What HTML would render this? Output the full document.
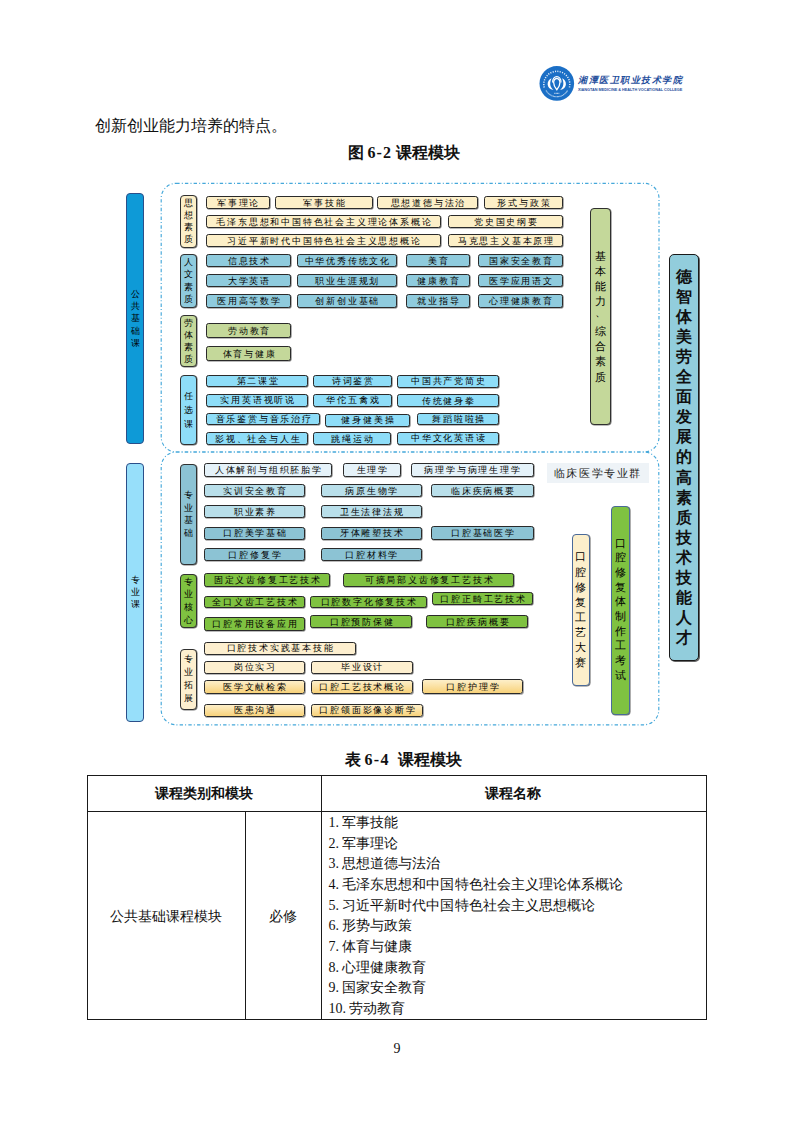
<!DOCTYPE html>
<html><head><meta charset="utf-8"><style>
html,body{margin:0;padding:0;background:#fff;}
body{width:793px;height:1122px;position:relative;overflow:hidden;font-family:"Liberation Serif",serif;color:#111;}
.a{position:absolute;box-sizing:border-box;}
.bx{position:absolute;box-sizing:border-box;border:1.4px solid #2a2a2a;border-radius:2.6px;box-shadow:0.6px 0.6px 0 #777;font-size:8.6px;letter-spacing:1.8px;text-indent:1.8px;line-height:1;font-weight:500;display:flex;align-items:center;justify-content:center;white-space:nowrap;color:#000;padding-top:1px;}
.vb{position:absolute;box-sizing:border-box;border:1.3px solid #303030;border-radius:4px;box-shadow:0.6px 0.6px 0 #777;display:flex;flex-direction:column;align-items:center;justify-content:center;line-height:1;color:#000;font-weight:500;}
.y{background:#FCEFC8;}
.b{background:#8FCBDD;}
.o{background:#C4D89A;}
.bb{background:#8EDDF8;}
.vl{background:#E5F2F9;}
.lb{background:#B9DFEA;}
.tb{background:#8CC3D4;}
.g{background:#7FC241;}
.c{background:#FDEFCF;}
.gy{background:linear-gradient(#FDEFC9,#F8D27A);}
.cb{background:#FCEFCB;border-color:#4A6A9A;}
.gb{background:#7FC241;border-color:#4A6A9A;}
</style></head><body>

<div class="bx y" style="left:205.7px;top:195.6px;width:64.1px;height:13.8px;">军事理论</div>
<div class="bx y" style="left:274.7px;top:195.6px;width:98.6px;height:13.8px;">军事技能</div>
<div class="bx y" style="left:376.7px;top:195.6px;width:101.6px;height:13.8px;">思想道德与法治</div>
<div class="bx y" style="left:483.7px;top:195.6px;width:79.6px;height:13.8px;">形式与政策</div>
<div class="bx y" style="left:205.7px;top:214.6px;width:235.6px;height:13.8px;">毛泽东思想和中国特色社会主义理论体系概论</div>
<div class="bx y" style="left:447.7px;top:214.6px;width:115.6px;height:13.8px;">党史国史纲要</div>
<div class="bx y" style="left:205.7px;top:233.6px;width:235.6px;height:13.8px;">习近平新时代中国特色社会主义思想概论</div>
<div class="bx y" style="left:447.7px;top:233.6px;width:115.6px;height:13.8px;">马克思主义基本原理</div>
<div class="bx b" style="left:205.7px;top:253.6px;width:85.6px;height:13.8px;">信息技术</div>
<div class="bx b" style="left:296.7px;top:253.6px;width:100.6px;height:13.8px;">中华优秀传统文化</div>
<div class="bx b" style="left:405.7px;top:253.6px;width:64.6px;height:13.8px;">美育</div>
<div class="bx b" style="left:477.7px;top:253.6px;width:85.6px;height:13.8px;">国家安全教育</div>
<div class="bx b" style="left:205.7px;top:273.6px;width:85.6px;height:13.8px;">大学英语</div>
<div class="bx b" style="left:296.7px;top:273.6px;width:100.6px;height:13.8px;">职业生涯规划</div>
<div class="bx b" style="left:405.7px;top:273.6px;width:64.6px;height:13.8px;">健康教育</div>
<div class="bx b" style="left:477.7px;top:273.6px;width:85.6px;height:13.8px;">医学应用语文</div>
<div class="bx b" style="left:205.7px;top:293.9px;width:85.6px;height:14.4px;">医用高等数学</div>
<div class="bx b" style="left:296.7px;top:293.9px;width:100.6px;height:14.4px;">创新创业基础</div>
<div class="bx b" style="left:405.7px;top:293.9px;width:64.6px;height:14.4px;">就业指导</div>
<div class="bx b" style="left:477.7px;top:293.9px;width:85.6px;height:14.4px;">心理健康教育</div>
<div class="bx o" style="left:206.2px;top:322.6px;width:85.1px;height:15.8px;">劳动教育</div>
<div class="bx o" style="left:206.2px;top:345.6px;width:85.1px;height:15.8px;">体育与健康</div>
<div class="bx bb" style="left:206.2px;top:374.6px;width:102.1px;height:12.8px;">第二课堂</div>
<div class="bx bb" style="left:312.7px;top:374.6px;width:79.6px;height:12.8px;">诗词鉴赏</div>
<div class="bx bb" style="left:396.7px;top:374.6px;width:102.6px;height:13.3px;">中国共产党简史</div>
<div class="bx bb" style="left:206.2px;top:393.6px;width:102.1px;height:13.3px;">实用英语视听说</div>
<div class="bx bb" style="left:312.7px;top:393.6px;width:79.6px;height:13.3px;">华佗五禽戏</div>
<div class="bx bb" style="left:396.7px;top:393.6px;width:102.6px;height:13.8px;">传统健身拳</div>
<div class="bx bb" style="left:206.2px;top:412.6px;width:114.1px;height:12.3px;">音乐鉴赏与音乐治疗</div>
<div class="bx bb" style="left:324.7px;top:413.6px;width:85.6px;height:13.3px;">健身健美操</div>
<div class="bx bb" style="left:417.2px;top:413.1px;width:82.1px;height:12.3px;">舞蹈啦啦操</div>
<div class="bx bb" style="left:206.2px;top:432.1px;width:102.1px;height:13.3px;">影视、社会与人生</div>
<div class="bx bb" style="left:312.7px;top:432.1px;width:78.6px;height:13.3px;">跳绳运动</div>
<div class="bx bb" style="left:396.7px;top:431.6px;width:102.6px;height:13.3px;">中华文化英语读</div>
<div class="bx vl" style="left:203.7px;top:463.1px;width:128.6px;height:13.5px;">人体解剖与组织胚胎学</div>
<div class="bx vl" style="left:343.1px;top:463.1px;width:57.7px;height:13.5px;">生理学</div>
<div class="bx vl" style="left:410.7px;top:462.9px;width:122.9px;height:13.7px;">病理学与病理生理学</div>
<div class="bx lb" style="left:203.7px;top:484.0px;width:101.6px;height:13.4px;">实训安全教育</div>
<div class="bx lb" style="left:320.7px;top:484.0px;width:101.2px;height:13.4px;">病原生物学</div>
<div class="bx lb" style="left:431.4px;top:483.9px;width:102.2px;height:13.0px;">临床疾病概要</div>
<div class="bx lb" style="left:203.7px;top:505.1px;width:101.6px;height:12.9px;">职业素养</div>
<div class="bx lb" style="left:320.7px;top:505.1px;width:101.2px;height:12.9px;">卫生法律法规</div>
<div class="bx tb" style="left:203.7px;top:526.6px;width:101.6px;height:13.1px;">口腔美学基础</div>
<div class="bx tb" style="left:320.7px;top:526.6px;width:101.2px;height:13.1px;">牙体雕塑技术</div>
<div class="bx tb" style="left:431.4px;top:526.3px;width:102.2px;height:13.7px;">口腔基础医学</div>
<div class="bx tb" style="left:203.7px;top:548.1px;width:101.6px;height:13.3px;">口腔修复学</div>
<div class="bx tb" style="left:320.7px;top:548.1px;width:101.2px;height:13.3px;">口腔材料学</div>
<div class="bx g" style="left:203.7px;top:573.3px;width:126.6px;height:13.3px;">固定义齿修复工艺技术</div>
<div class="bx g" style="left:343.1px;top:573.3px;width:171.2px;height:13.3px;">可摘局部义齿修复工艺技术</div>
<div class="bx g" style="left:203.7px;top:595.6px;width:101.6px;height:12.8px;">全口义齿工艺技术</div>
<div class="bx g" style="left:310.2px;top:595.6px;width:116.4px;height:12.8px;">口腔数字化修复技术</div>
<div class="bx g" style="left:432.0px;top:591.8px;width:101.3px;height:13.6px;">口腔正畸工艺技术</div>
<div class="bx g" style="left:203.7px;top:617.1px;width:101.6px;height:13.7px;">口腔常用设备应用</div>
<div class="bx g" style="left:310.2px;top:615.1px;width:102.3px;height:12.9px;">口腔预防保健</div>
<div class="bx g" style="left:426.0px;top:614.6px;width:102.3px;height:13.6px;">口腔疾病概要</div>
<div class="bx c" style="left:203.7px;top:641.6px;width:152.1px;height:13.4px;">口腔技术实践基本技能</div>
<div class="bx c" style="left:203.7px;top:660.6px;width:101.6px;height:13.2px;">岗位实习</div>
<div class="bx c" style="left:311.0px;top:660.6px;width:101.5px;height:13.2px;">毕业设计</div>
<div class="bx gy" style="left:203.7px;top:680.0px;width:101.6px;height:14.4px;">医学文献检索</div>
<div class="bx gy" style="left:311.0px;top:680.0px;width:101.5px;height:14.4px;">口腔工艺技术概论</div>
<div class="bx gy" style="left:421.7px;top:678.8px;width:101.6px;height:15.4px;">口腔护理学</div>
<div class="bx gy" style="left:203.7px;top:703.6px;width:101.6px;height:13.2px;">医患沟通</div>
<div class="bx gy" style="left:311.0px;top:703.6px;width:112.3px;height:13.2px;">口腔颌面影像诊断学</div>
<div class="vb y" style="left:179.5px;top:194.5px;width:17.0px;height:53.5px;font-size:9.2px"><span style="display:block;height:12.1px;line-height:12.1px">思</span><span style="display:block;height:12.1px;line-height:12.1px">想</span><span style="display:block;height:12.1px;line-height:12.1px">素</span><span style="display:block;height:12.1px;line-height:12.1px">质</span></div>
<div class="vb b" style="left:179.5px;top:254px;width:17.0px;height:53.6px;font-size:9.2px"><span style="display:block;height:12.4px;line-height:12.4px">人</span><span style="display:block;height:12.4px;line-height:12.4px">文</span><span style="display:block;height:12.4px;line-height:12.4px">素</span><span style="display:block;height:12.4px;line-height:12.4px">质</span></div>
<div class="vb o" style="left:179.5px;top:314.7px;width:17.0px;height:52.8px;font-size:9.2px"><span style="display:block;height:12.1px;line-height:12.1px">劳</span><span style="display:block;height:12.1px;line-height:12.1px">体</span><span style="display:block;height:12.1px;line-height:12.1px">素</span><span style="display:block;height:12.1px;line-height:12.1px">质</span></div>
<div class="vb bb" style="left:179.5px;top:375.3px;width:17.0px;height:69.3px;font-size:9.2px"><span style="display:block;height:14.2px;line-height:14.2px">任</span><span style="display:block;height:14.2px;line-height:14.2px">选</span><span style="display:block;height:14.2px;line-height:14.2px">课</span></div>
<div class="vb tb" style="left:179.5px;top:463.7px;width:17.0px;height:101.6px;font-size:9.2px"><span style="display:block;height:12.7px;line-height:12.7px">专</span><span style="display:block;height:12.7px;line-height:12.7px">业</span><span style="display:block;height:12.7px;line-height:12.7px">基</span><span style="display:block;height:12.7px;line-height:12.7px">础</span></div>
<div class="vb g" style="left:179.5px;top:573.7px;width:17.0px;height:54.7px;font-size:9.2px"><span style="display:block;height:12.7px;line-height:12.7px">专</span><span style="display:block;height:12.7px;line-height:12.7px">业</span><span style="display:block;height:12.7px;line-height:12.7px">核</span><span style="display:block;height:12.7px;line-height:12.7px">心</span></div>
<div class="vb c" style="left:179.5px;top:649px;width:17.0px;height:60.7px;font-size:9.2px"><span style="display:block;height:13.1px;line-height:13.1px">专</span><span style="display:block;height:13.1px;line-height:13.1px">业</span><span style="display:block;height:13.1px;line-height:13.1px">拓</span><span style="display:block;height:13.1px;line-height:13.1px">展</span></div>
<div class="vb o" style="left:589.5px;top:208.4px;width:21.5px;height:216.6px;font-size:10.8px"><span style="display:block;height:15.1px;line-height:15.1px">基</span><span style="display:block;height:15.1px;line-height:15.1px">本</span><span style="display:block;height:15.1px;line-height:15.1px">能</span><span style="display:block;height:15.1px;line-height:15.1px">力</span><span style="display:block;height:15.1px;line-height:15.1px;position:relative;top:-4px;left:0.5px">、</span><span style="display:block;height:15.1px;line-height:15.1px">综</span><span style="display:block;height:15.1px;line-height:15.1px">合</span><span style="display:block;height:15.1px;line-height:15.1px">素</span><span style="display:block;height:15.1px;line-height:15.1px">质</span></div>
<div class="vb cb" style="left:571.8px;top:533.7px;width:17.8px;height:152.3px;font-size:10.5px"><span style="display:block;height:15.1px;line-height:15.1px">口</span><span style="display:block;height:15.1px;line-height:15.1px">腔</span><span style="display:block;height:15.1px;line-height:15.1px">修</span><span style="display:block;height:15.1px;line-height:15.1px">复</span><span style="display:block;height:15.1px;line-height:15.1px">工</span><span style="display:block;height:15.1px;line-height:15.1px">艺</span><span style="display:block;height:15.1px;line-height:15.1px">大</span><span style="display:block;height:15.1px;line-height:15.1px">赛</span></div>
<div class="vb gb" style="left:611.2px;top:505.5px;width:18.8px;height:209.2px;font-size:10.5px"><span style="display:block;height:14.7px;line-height:14.7px">口</span><span style="display:block;height:14.7px;line-height:14.7px">腔</span><span style="display:block;height:14.7px;line-height:14.7px">修</span><span style="display:block;height:14.7px;line-height:14.7px">复</span><span style="display:block;height:14.7px;line-height:14.7px">体</span><span style="display:block;height:14.7px;line-height:14.7px">制</span><span style="display:block;height:14.7px;line-height:14.7px">作</span><span style="display:block;height:14.7px;line-height:14.7px">工</span><span style="display:block;height:14.7px;line-height:14.7px">考</span><span style="display:block;height:14.7px;line-height:14.7px">试</span></div>
<svg class="a" style="left:0;top:0" width="793" height="1122" viewBox="0 0 793 1122">
<rect x="161.2" y="183.3" width="497.8" height="268.7" rx="15" ry="15" fill="none" stroke="#45A8DA" stroke-width="1.15" stroke-dasharray="3.4 2.2 1 2.1"/>
<rect x="161.2" y="452" width="497.59999999999997" height="272.79999999999995" rx="15" ry="15" fill="none" stroke="#45A8DA" stroke-width="1.15" stroke-dasharray="3.4 2.2 1 2.1"/>
</svg>
<div class="a" style="left:126px;top:193.2px;width:18.4px;height:250.8px;background:#0E9AD7;border:1px solid #2B4F8A;border-radius:4px;display:flex;flex-direction:column;align-items:center;justify-content:center;font-size:9.2px;line-height:12.4px;color:#000">
<span>公</span><span>共</span><span>基</span><span>础</span><span>课</span></div>
<div class="a" style="left:126px;top:462.6px;width:18.4px;height:259.4px;background:#97DFFA;border:1px solid #2B4F8A;border-radius:4px;display:flex;flex-direction:column;align-items:center;justify-content:center;font-size:9.2px;line-height:12.3px;color:#000">
<span>专</span><span>业</span><span>课</span></div>
<div class="a" style="left:669px;top:254px;width:30px;height:407px;background:#92CDDC;border:1.3px solid #1a1a1a;border-radius:5px;box-shadow:1px 1px 0 #666;display:flex;flex-direction:column;align-items:center;justify-content:center;font-size:16px;line-height:20.1px;font-weight:bold;color:#111">
<span>德</span><span>智</span><span>体</span><span>美</span><span>劳</span><span>全</span><span>面</span><span>发</span><span>展</span><span>的</span><span>高</span><span>素</span><span>质</span><span>技</span><span>术</span><span>技</span><span>能</span><span>人</span><span>才</span></div>
<div class="a" style="left:546.7px;top:462.9px;width:102.5px;height:20.6px;background:#EEF3F7;font-size:11px;letter-spacing:1.6px;display:flex;align-items:center;justify-content:center;color:#222">临床医学专业群</div>

<!-- header logo -->
<svg class="a" style="left:538px;top:65px" width="38" height="38" viewBox="0 0 38 38">
<circle cx="18.8" cy="18.4" r="17.3" fill="#1B6FC6"/>
<path d="M6.2 22.5 A13 13 0 1 1 31.4 22.5" fill="none" stroke="#e4eefa" stroke-width="1.5" stroke-dasharray="1.1 1.3"/>
<path d="M8 25.5 A12.5 12.5 0 0 0 29.6 25.5" fill="none" stroke="#c8ddf2" stroke-width="1.1" stroke-dasharray="0.9 0.4"/>
<path d="M13.6 13.2 C8.3 15.5 7.8 23.5 15.5 25 C11.8 22 11.3 17.5 13.6 13.2 Z" fill="#fff"/>
<path d="M24 13.2 C29.3 15.5 29.8 23.5 22.1 25 C25.8 22 26.3 17.5 24 13.2 Z" fill="#fff"/>
<path d="M18.8 24.8 C14.6 20 14.6 14.2 18.8 13.4 C23 14.2 23 20 18.8 24.8Z" fill="none" stroke="#fff" stroke-width="1.3"/>
<path d="M14.6 17.5 C14.2 9.6 23.4 9.6 23 17.5" fill="none" stroke="#fff" stroke-width="1.1"/>
<path d="M16.3 28.3 h5" stroke="#e4eefa" stroke-width="1" stroke-dasharray="1 0.4"/>
</svg>
<div class="a" style="left:578px;top:76px;font-size:9px;letter-spacing:1.55px;color:#1F4E9C;font-family:'Liberation Serif',serif;white-space:nowrap;line-height:1;font-style:italic;font-weight:bold">湘潭医卫职业技术学院</div>
<div class="a" style="left:578px;top:88.5px;font-size:3.8px;letter-spacing:0px;color:#1F4E9C;font-family:'Liberation Sans',sans-serif;font-weight:bold;white-space:nowrap;line-height:1">XIANGTAN MEDICINE &amp; HEALTH VOCATIONAL COLLEGE</div>

<div class="a" style="left:94.5px;top:116.5px;font-size:16px;line-height:18px;font-family:'Liberation Sans',sans-serif;white-space:nowrap;color:#111">创新创业能力培养的特点。</div>
<div class="a" style="left:347.5px;top:143.5px;font-size:16px;line-height:18px;font-weight:bold;white-space:nowrap;color:#111">图&nbsp;<span style="letter-spacing:1.1px">6-2</span>&nbsp;课程模块</div>
<div class="a" style="left:344.5px;top:750.5px;font-size:16px;line-height:18px;font-weight:bold;white-space:nowrap;color:#111">表&nbsp;<span style="letter-spacing:1.3px">6-4</span>&nbsp;&nbsp;课程模块</div>

<!-- table -->
<div class="a" style="left:87px;top:775px;width:619.5px;height:1.1px;background:#1a1a1a"></div>
<div class="a" style="left:87px;top:810.8px;width:619.5px;height:1.1px;background:#1a1a1a"></div>
<div class="a" style="left:87px;top:1018.8px;width:619.5px;height:1.1px;background:#1a1a1a"></div>
<div class="a" style="left:87px;top:775px;width:1.1px;height:245px;background:#1a1a1a"></div>
<div class="a" style="left:705.5px;top:775px;width:1.1px;height:245px;background:#1a1a1a"></div>
<div class="a" style="left:320.5px;top:775px;width:1.1px;height:245px;background:#1a1a1a"></div>
<div class="a" style="left:245px;top:811px;width:1.1px;height:208px;background:#1a1a1a"></div>
<div class="a" style="left:87px;top:784px;width:234px;text-align:center;font-size:14px;line-height:18px;font-weight:bold;font-family:'Liberation Sans',sans-serif">课程类别和模块</div>
<div class="a" style="left:321px;top:784px;width:384px;text-align:center;font-size:14px;line-height:18px;font-weight:bold;font-family:'Liberation Sans',sans-serif">课程名称</div>
<div class="a" style="left:87px;top:907px;width:158px;text-align:center;font-size:14px;line-height:18px;font-family:'Liberation Sans',sans-serif">公共基础课程模块</div>
<div class="a" style="left:245px;top:907px;width:76px;text-align:center;font-size:14px;line-height:18px;font-family:'Liberation Sans',sans-serif">必修</div>
<div class="a" style="left:328.5px;top:812.8px;font-size:14px;line-height:20.7px;letter-spacing:0.05px;font-family:'Liberation Serif',serif;white-space:nowrap">
<div><span style="margin-right:3px">1.</span>军事技能</div><div><span style="margin-right:3px">2.</span>军事理论</div><div><span style="margin-right:3px">3.</span>思想道德与法治</div><div><span style="margin-right:3px">4.</span>毛泽东思想和中国特色社会主义理论体系概论</div><div><span style="margin-right:3px">5.</span>习近平新时代中国特色社会主义思想概论</div><div><span style="margin-right:3px">6.</span>形势与政策</div><div><span style="margin-right:3px">7.</span>体育与健康</div><div><span style="margin-right:3px">8.</span>心理健康教育</div><div><span style="margin-right:3px">9.</span>国家安全教育</div><div><span style="margin-right:3px">10.</span>劳动教育</div>
</div>
<div class="a" style="left:390px;top:1040.5px;width:14px;text-align:center;font-size:14px;line-height:16px">9</div>
</body></html>
